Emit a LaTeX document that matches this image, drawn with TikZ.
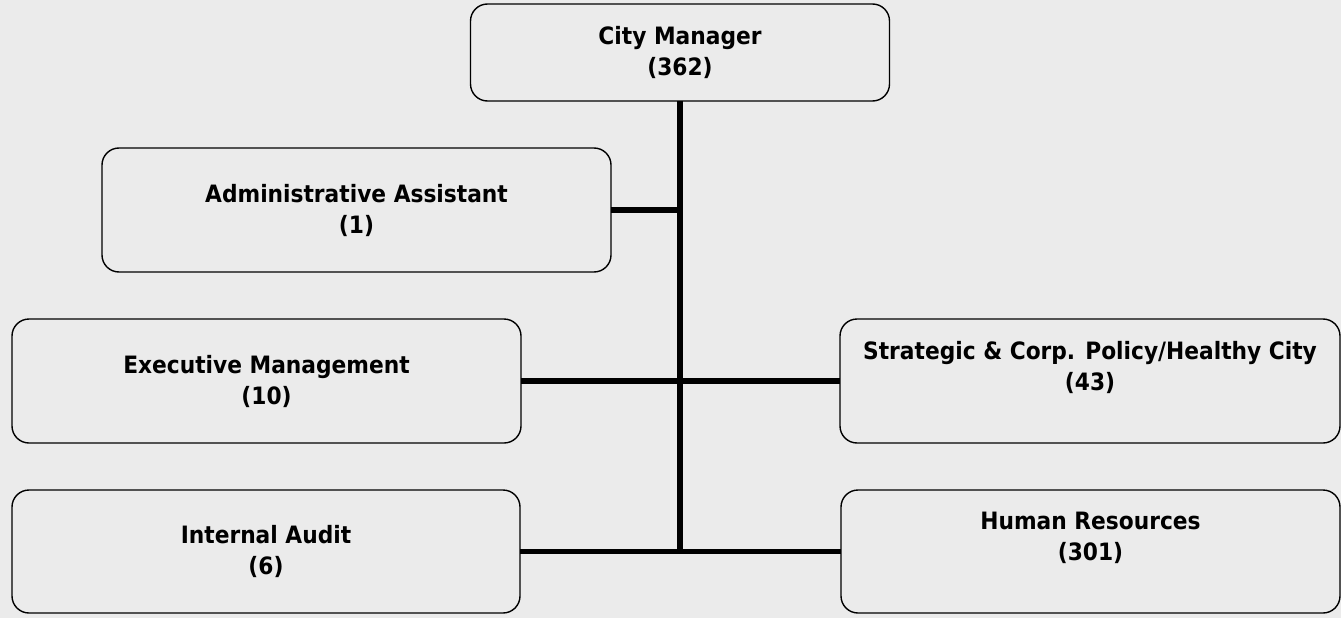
\documentclass[tikz,border=0pt]{standalone}
\usepackage{fontspec}
\setmainfont{DejaVu Sans}[FakeStretch=0.91]
\definecolor{bg}{HTML}{EBEBEB}
\begin{document}
\begin{tikzpicture}[x=1pt,y=-1pt,
  box/.style={draw=black, line width=1.4pt, fill=bg, rounded corners=17pt,
    align=center, inner sep=0pt, outer sep=0pt,
    font=\fontsize{23.9}{31}\selectfont\bfseries},
  link/.style={line width=5.5pt, black}]
\fill[bg] (0,0) rectangle (1341,618);
\useasboundingbox (0,0) rectangle (1341,618);
\node[box, minimum width=419pt, minimum height=97pt] (cm) at (680,52.5) {City Manager\\(362)};
\node[box, minimum width=509pt, minimum height=124pt] (aa) at (356.5,210) {Administrative Assistant\\(1)};
\node[box, minimum width=509pt, minimum height=124pt] (em) at (266.5,381) {Executive Management\\(10)};
\node[box, minimum width=500pt, minimum height=124pt] (sp) at (1090,381) {Strategic \& Corp. Policy/Healthy City\\(43)\\\mbox{}};
\node[box, minimum width=508pt, minimum height=123pt] (ia) at (266,551.5) {Internal Audit\\(6)};
\node[box, minimum width=499pt, minimum height=123pt] (hr) at (1090.5,551.5) {Human Resources\\(301)\\\mbox{}};
\coordinate (j1) at (680,210);
\coordinate (j3) at (680,551.5);
\draw[link] (cm.south) -- (j3);
\draw[link] (aa.east) -- (j1);
\draw[link] (em.east) -- (sp.west);
\draw[link] (ia.east) -- (hr.west);
\end{tikzpicture}
\end{document}
